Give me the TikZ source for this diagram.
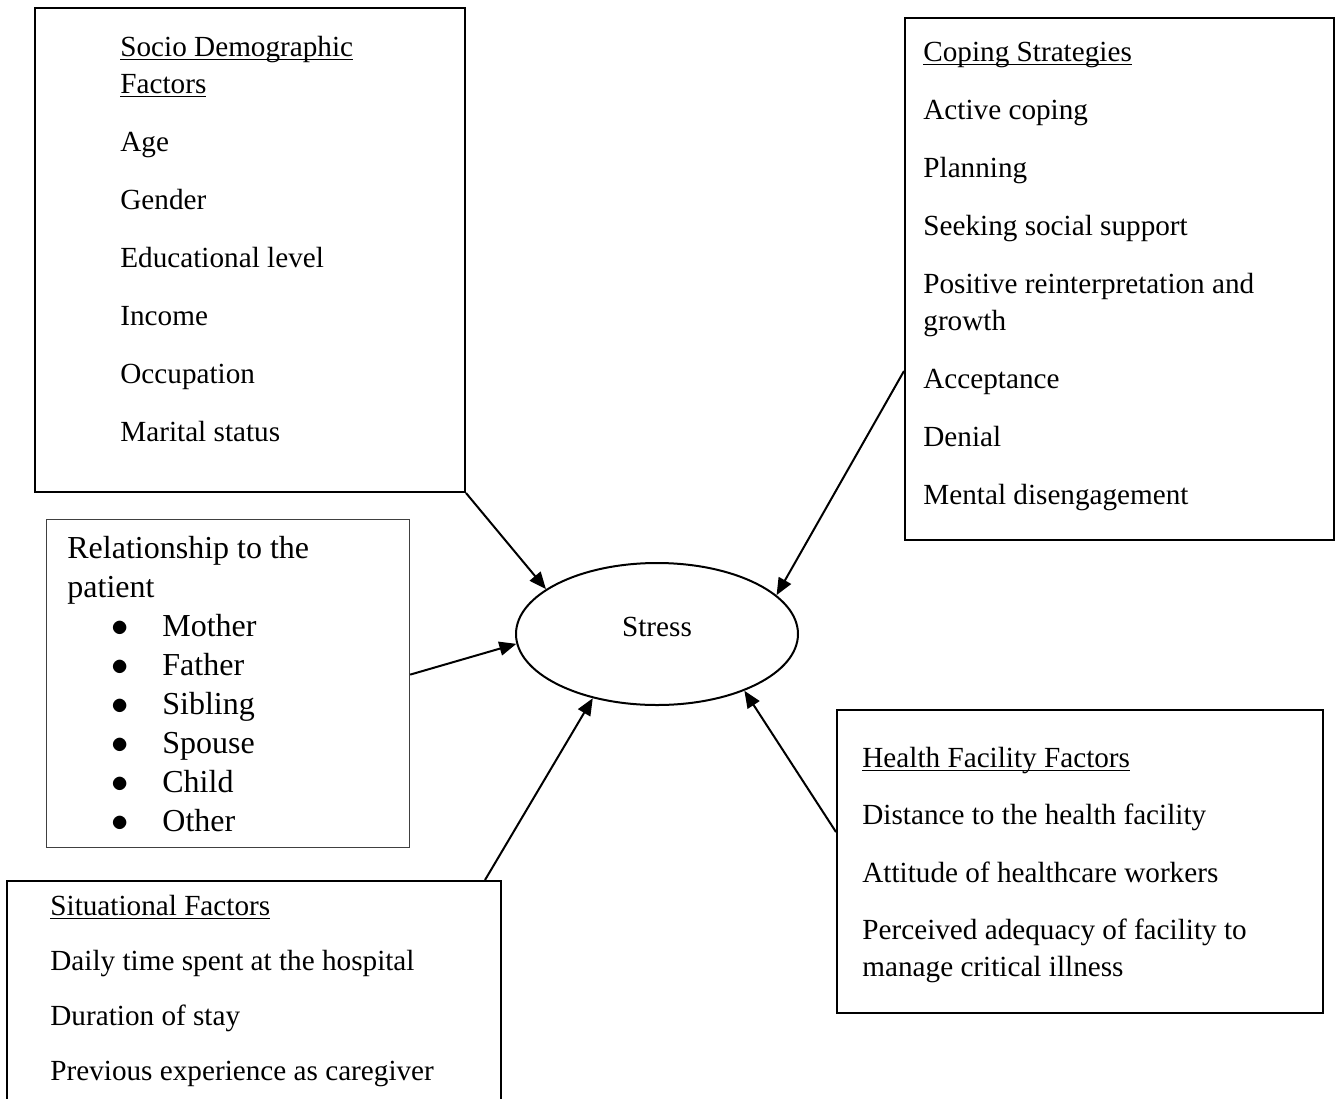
\documentclass[tikz,border=0pt]{standalone}
\usepackage{fontspec}
\setmainfont{Liberation Serif}
\usetikzlibrary{arrows.meta,shapes.geometric}

\newcommand{\boxfont}{\fontsize{14.6pt}{18.5pt}\selectfont}
\newcommand{\relfont}{\fontsize{16pt}{19.5pt}\selectfont}
\newcommand{\relitem}[1]{\par\hspace*{22pt}\makebox[25.5pt][l]{\fontsize{19pt}{19pt}\selectfont$\bullet$}#1}
\newcommand{\headline}[1]{\leavevmode\setbox0\hbox{#1}\rlap{\rule[-2.2pt]{\wd0}{0.7pt}}\box0}

\begin{document}
\begin{tikzpicture}[x=0.5pt,y=-0.5pt,
  factorbox/.style={draw, line width=1pt, anchor=north west, inner sep=0pt},
  factorlist/.style={anchor=base west, inner sep=0pt},
  link/.style={-{Triangle[length=8.5pt,width=7pt]}, line width=1pt}]

\useasboundingbox (0,0) rectangle (1335,1099);

% BOXES
\node[factorbox, minimum width=215pt, minimum height=242pt] (socio) at (34,7) {};
\node[factorbox, minimum width=214.5pt, minimum height=261pt] (coping) at (904,17) {};
\node[factorbox, minimum width=181.5pt, minimum height=164pt,
      line width=0.6pt, draw=black!75] (rel) at (46,519) {};
\node[factorbox, minimum width=247pt, minimum height=125pt] (situ) at (6,880) {};
\node[factorbox, minimum width=243pt, minimum height=151.5pt] (health) at (836,709) {};

\node[draw, ellipse, line width=1pt, minimum width=141pt, minimum height=71pt,
      inner sep=0pt, text depth=7pt, font=\boxfont] (stress) at (657,634) {Stress};

% TEXTS
\node[factorlist] (sociolist) at (120,56) {\parbox[t]{140pt}{\boxfont\raggedright
  \setlength{\parskip}{10.5pt}%
  \headline{Socio Demographic}\\\headline{Factors}\par
  Age\par Gender\par Educational level\par Income\par Occupation\par Marital status}};

\node[factorlist] (copinglist) at (923,61) {\parbox[t]{190pt}{\boxfont\raggedright
  \setlength{\parskip}{10.5pt}%
  \headline{Coping Strategies}\par
  Active coping\par Planning\par Seeking social support\par
  Positive reinterpretation and growth\par Acceptance\par Denial\par
  Mental disengagement}};

\node[factorlist] (rellist) at (67,558) {\parbox[t]{150pt}{\relfont\raggedright
  Relationship to the patient
  \relitem{Mother}\relitem{Father}\relitem{Sibling}
  \relitem{Spouse}\relitem{Child}\relitem{Other}}};

\node[factorlist] (situlist) at (50,915) {\parbox[t]{220pt}{\boxfont\raggedright
  \setlength{\parskip}{9.15pt}%
  \headline{Situational Factors}\par
  Daily time spent at the hospital\par Duration of stay\par
  Previous experience as caregiver}};

\node[factorlist] (healthlist) at (862,767) {\parbox[t]{220pt}{\boxfont\raggedright
  \setlength{\parskip}{10.25pt}%
  \headline{Health Facility Factors}\par
  Distance to the health facility\par Attitude of healthcare workers\par
  Perceived adequacy of facility to manage critical illness}};

% ARROWS
\draw[link] (socio.south east) -- (stress.158);
\draw[link] ([yshift=-46pt]coping.west) -- (stress.18);
\draw[link] ([yshift=4.5pt]rel.east) -- (stress.184);
\draw[link] ([xshift=-8.5pt]situ.north east) -- (stress.225);
\draw[link] ([yshift=14.75pt]health.west) -- (stress.327);

\end{tikzpicture}
\end{document}
